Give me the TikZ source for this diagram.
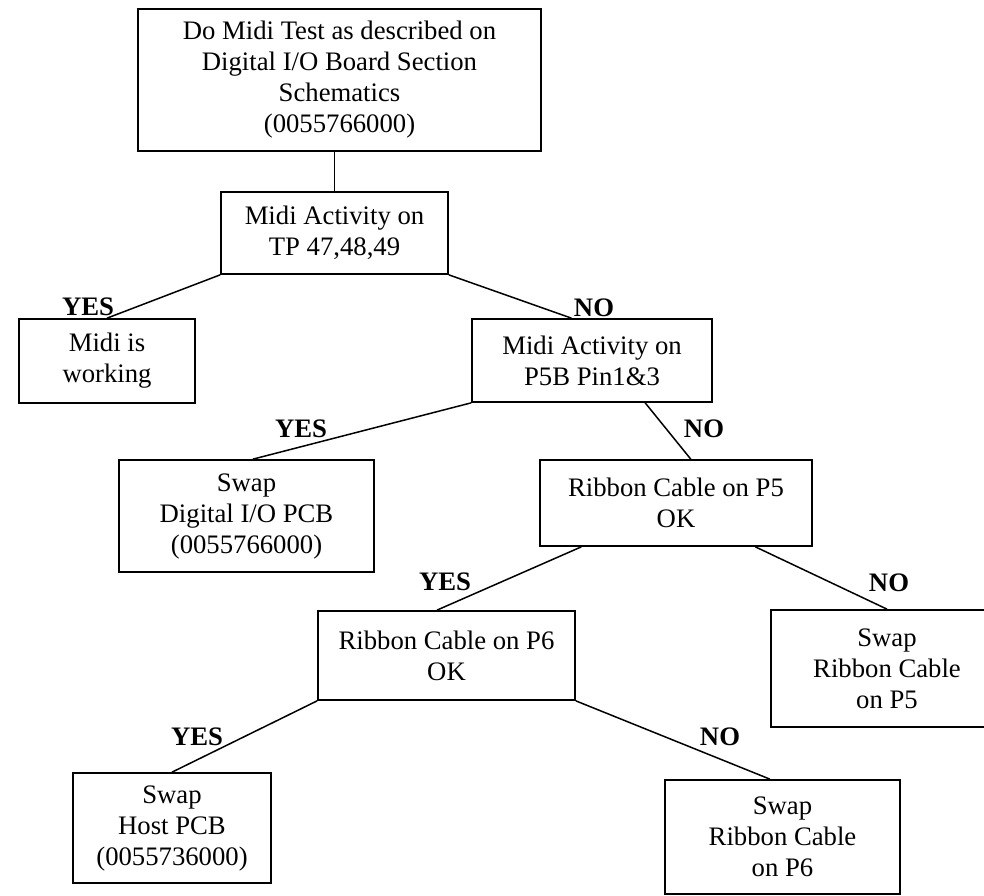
\documentclass[tikz,border=0pt]{standalone}
\usepackage{fontspec}
\setmainfont{Liberation Serif}
\usetikzlibrary{calc}
\tikzset{%
stepbox/.style={draw,rectangle,line width=1.7pt,align=center,inner sep=2pt,font=\fontsize{26.7}{31}\selectfont},
answer/.style={inner sep=0pt,font=\fontsize{26.7}{31}\selectfont\bfseries},
branch/.style={line width=1.5pt}
}

\begin{document}
\begin{tikzpicture}[x=1pt,y=-1pt]

    \path[use as bounding box,clip] (0,0) rectangle (984,895);

    \node[stepbox,minimum width=403,minimum height=142] (start) at (339.5,80)
      {Do Midi Test as described on\\Digital I/O Board Section\\Schematics\\(0055766000)};
    \node[stepbox,minimum width=227,minimum height=82] (tptest) at (334.5,233)
      {Midi Activity on\\TP 47,48,49};
    \node[stepbox,minimum width=176,minimum height=84] (works) at (107,361)
      {Midi is\\working};
    \node[stepbox,minimum width=240,minimum height=83] (pintest) at (592,360.5)
      {Midi Activity on\\P5B Pin1\&3};
    \node[stepbox,minimum width=255,minimum height=112] (swapio) at (246.5,516)
      {Swap\\Digital I/O PCB\\(0055766000)};
    \node[stepbox,minimum width=272,minimum height=86] (cablefive) at (676,503)
      {Ribbon Cable on P5\\OK};
    \node[stepbox,minimum width=257,minimum height=89] (cablesix) at (446.5,655.5)
      {Ribbon Cable on P6\\OK};
    \node[stepbox,minimum width=232,minimum height=117] (swapfive) at (887,668.5)
      {Swap\\Ribbon Cable\\on P5};
    \node[stepbox,minimum width=198,minimum height=110] (swaphost) at (172,828)
      {Swap\\Host PCB\\(0055736000)};
    \node[stepbox,minimum width=235,minimum height=114] (swapsix) at (782.5,837)
      {Swap\\Ribbon Cable\\on P6};

    \draw[branch] (start.south -| tptest.north) -- (tptest.north);
    \draw[branch] (tptest.south west) -- (works.north);
    \draw[branch] (tptest.south east) -- ($(pintest.north west)!0.415!(pintest.north east)$);
    \draw[branch] (pintest.south west) -- ($(swapio.north west)!0.525!(swapio.north east)$);
    \draw[branch] ($(pintest.south west)!0.72!(pintest.south east)$) -- ($(cablefive.north west)!0.554!(cablefive.north east)$);
    \draw[branch] ($(cablefive.south west)!0.154!(cablefive.south east)$) -- ($(cablesix.north west)!0.463!(cablesix.north east)$);
    \draw[branch] ($(cablefive.south west)!0.79!(cablefive.south east)$) -- (swapfive.north);
    \draw[branch] (cablesix.south west) -- (swaphost.north);
    \draw[branch] (cablesix.south east) -- ($(swapsix.north west)!0.447!(swapsix.north east)$);

    \node[answer] (yesworks) at (88,307) {YES};
    \node[answer] (nopin) at (594,308) {NO};
    \node[answer] (yesio) at (301,429) {YES};
    \node[answer] (nocable) at (704,429) {NO};
    \node[answer] (yessix) at (445,582) {YES};
    \node[answer] (nofive) at (889,583) {NO};
    \node[answer] (yeshost) at (197,737) {YES};
    \node[answer] (nosix) at (720,737) {NO};

\end{tikzpicture}
\end{document}
